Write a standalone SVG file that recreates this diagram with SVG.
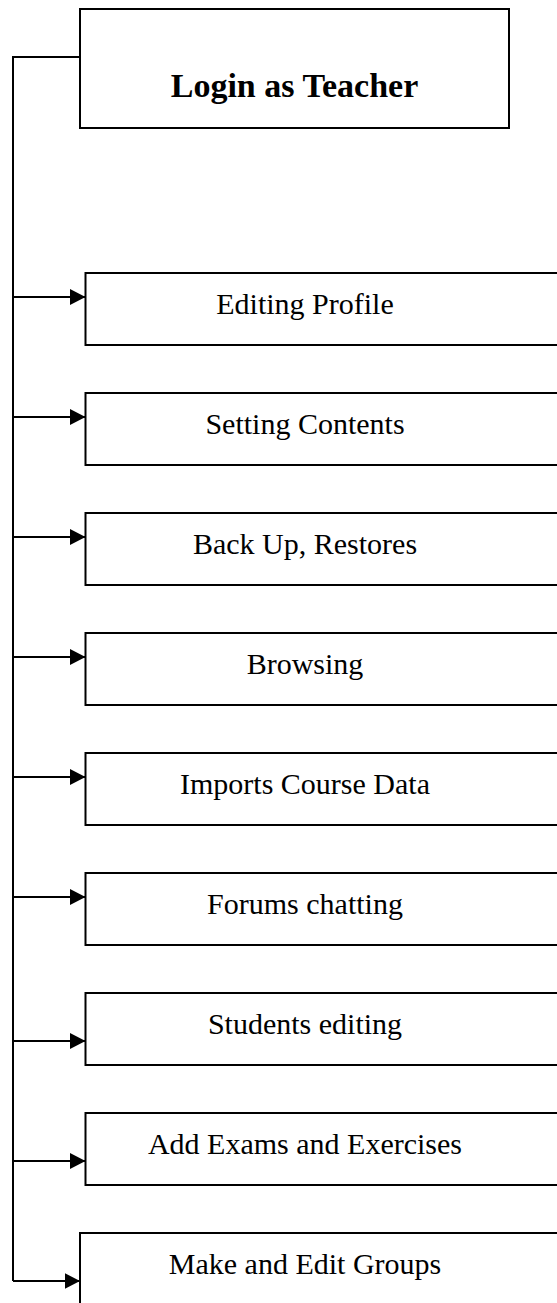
<svg xmlns="http://www.w3.org/2000/svg" width="557" height="1303" viewBox="0 0 557 1303">
<style>
.box{fill:#fff;stroke:#000;stroke-width:2}
.t{font-family:"Liberation Serif","Times New Roman",serif;font-size:30px;text-anchor:middle;fill:#000}
.tb{font-family:"Liberation Serif","Times New Roman",serif;font-size:34px;font-weight:bold;text-anchor:middle;fill:#000}
.ln{fill:none;stroke:#000;stroke-width:2}
</style>
<defs>
<marker id="ah" markerWidth="16" markerHeight="16" refX="15.5" refY="8" orient="auto" markerUnits="userSpaceOnUse">
<path d="M0,0 L15.5,8 L0,16 Z" fill="#000"/>
</marker>
</defs>
<g id="n0"><rect class="box" x="80" y="9" width="429" height="119"/><text class="tb" x="294.5" y="97">Login as Teacher</text></g>
<g id="n1"><rect class="box" x="85.5" y="273" width="500" height="72"/><text class="t" x="305" y="314">Editing Profile</text></g>
<g id="n2"><rect class="box" x="85.5" y="393" width="500" height="72"/><text class="t" x="305" y="434">Setting Contents</text></g>
<g id="n3"><rect class="box" x="85.5" y="513" width="500" height="72"/><text class="t" x="305" y="554">Back Up, Restores</text></g>
<g id="n4"><rect class="box" x="85.5" y="633" width="500" height="72"/><text class="t" x="305" y="674">Browsing</text></g>
<g id="n5"><rect class="box" x="85.5" y="753" width="500" height="72"/><text class="t" x="305" y="794">Imports Course Data</text></g>
<g id="n6"><rect class="box" x="85.5" y="873" width="500" height="72"/><text class="t" x="305" y="914">Forums chatting</text></g>
<g id="n7"><rect class="box" x="85.5" y="993" width="500" height="72"/><text class="t" x="305" y="1034">Students editing</text></g>
<g id="n8"><rect class="box" x="85.5" y="1113" width="500" height="72"/><text class="t" x="305" y="1154">Add Exams and Exercises</text></g>
<g id="n9"><rect class="box" x="80" y="1233" width="500" height="100"/><text class="t" x="305" y="1274">Make and Edit Groups</text></g>
<g id="connectors">
<path class="ln" d="M80,57 H13 V1281"/>
<path class="ln" d="M13,297 H85.5" marker-end="url(#ah)"/>
<path class="ln" d="M13,417 H85.5" marker-end="url(#ah)"/>
<path class="ln" d="M13,537 H85.5" marker-end="url(#ah)"/>
<path class="ln" d="M13,657 H85.5" marker-end="url(#ah)"/>
<path class="ln" d="M13,777 H85.5" marker-end="url(#ah)"/>
<path class="ln" d="M13,897 H85.5" marker-end="url(#ah)"/>
<path class="ln" d="M13,1041 H85.5" marker-end="url(#ah)"/>
<path class="ln" d="M13,1161 H85.5" marker-end="url(#ah)"/>
<path class="ln" d="M13,1281 H80" marker-end="url(#ah)"/>
</g>
</svg>
